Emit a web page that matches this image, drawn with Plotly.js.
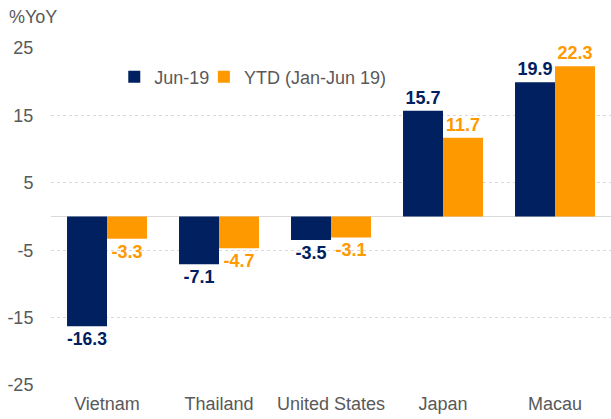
<!DOCTYPE html>
<html>
<head>
<meta charset="utf-8">
<script src="https://cdn.plot.ly/plotly-3.0.1.min.js"></script>
<style>html,body{margin:0;padding:0;background:#fff;}#chart{width:611px;height:419px;}</style>
</head>
<body>
<div id="chart"></div>
<script>
const categories = ["Vietnam", "Thailand", "United States", "Japan", "Macau"];
const jun19 = [-16.3, -7.1, -3.5, 15.7, 19.9];
const ytd = [-3.3, -4.7, -3.1, 11.7, 22.3];
const seriesNames = ["Jun-19", "YTD (Jan-Jun 19)"];
const yTicks = [-25, -15, -5, 5, 15, 25];

const navy = "#002060";
const orange = "#FF9900";
const gray = "#595959";
const fam = "Liberation Sans, Arial, sans-serif";

const traces = [
  {
    type: "bar", name: seriesNames[0], x: categories, y: jun19,
    marker: {color: navy}, legend: "legend",
    text: jun19.map(v => v.toFixed(1)), textposition: "outside",
    textfont: {family: fam, size: 18, color: navy, weight: "bold"},
    cliponaxis: false, hoverinfo: "none"
  },
  {
    type: "bar", name: seriesNames[1], x: categories, y: ytd,
    marker: {color: orange}, legend: "legend2",
    text: ytd.map(v => v.toFixed(1)), textposition: "outside",
    textfont: {family: fam, size: 18, color: orange, weight: "bold"},
    cliponaxis: false, hoverinfo: "none"
  }
];

const legendBase = {
  orientation: "h", xanchor: "left", y: 0.914, yanchor: "middle",
  font: {size: 18, color: gray}, bgcolor: "rgba(0,0,0,0)",
  itemwidth: 30, tracegroupgap: 0
};

const layout = {
  width: 611, height: 419,
  margin: {l: 51, r: 0, t: 48, b: 34},
  paper_bgcolor: "#fff", plot_bgcolor: "#fff",
  font: {family: fam, size: 18, color: gray},
  barmode: "group", bargap: 0.286, bargroupgap: 0,
  showlegend: true,
  legend: Object.assign({}, legendBase, {x: 0.113}),
  legend2: Object.assign({}, legendBase, {x: 0.273}),
  xaxis: {
    showgrid: false, showline: false, zeroline: false,
    ticks: "outside", ticklen: 2, tickcolor: "rgba(0,0,0,0)",
    tickfont: {size: 18, color: gray}
  },
  yaxis: {
    range: [-25, 25], tickvals: yTicks, ticktext: yTicks.map(String),
    showgrid: true, gridcolor: "#d9d9d9", griddash: "dot", gridwidth: 1,
    zeroline: true, zerolinecolor: "#d9d9d9", zerolinewidth: 1,
    showline: false, ticks: "outside", ticklen: 13, tickcolor: "rgba(0,0,0,0)",
    tickfont: {size: 18, color: gray}
  },
  annotations: [
    {text: "%YoY", xref: "paper", yref: "paper", x: -0.078, y: 1.0, xanchor: "left", yanchor: "bottom",
     yshift: 19, showarrow: false, font: {size: 18, color: gray}}
  ]
};

Plotly.newPlot("chart", traces, layout, {displayModeBar: false, staticPlot: true});
</script>
</body>
</html>
